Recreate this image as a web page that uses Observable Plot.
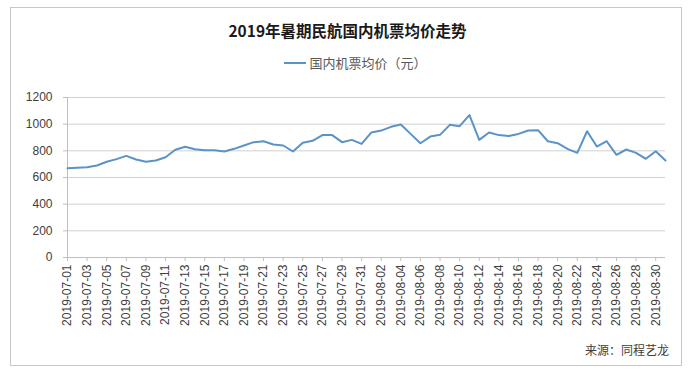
<!DOCTYPE html>
<html>
<head>
<meta charset="utf-8">
<script src="https://cdn.jsdelivr.net/npm/d3@7"></script>
<script src="https://cdn.jsdelivr.net/npm/@observablehq/plot@0.6"></script>
<style>
  html, body { margin: 0; padding: 0; background: #fff; }
  #wrap { position: relative; width: 695px; height: 377px; overflow: hidden; background: #fff; }
  #frame { position: absolute; left: 10px; top: 7px; width: 672px; height: 359px; border: 1px solid #c8c8c8; box-sizing: border-box; }
  #title { position: absolute; left: 0; width: 695px; top: 19px; text-align: center; font: bold 15.5px "Noto Sans CJK SC", sans-serif; color: #1a1a1a; }
  #legend { position: absolute; left: 8px; width: 695px; top: 53px; text-align: center; font: 13px "Noto Sans CJK SC", sans-serif; color: #595959; }
  #legend .sw { display: inline-block; width: 22px; height: 2px; background: #5b93c7; vertical-align: middle; margin-right: 3px; position: relative; top: -1px; }
  #chart { position: absolute; left: 0; top: 85px; }
  #source { position: absolute; right: 26px; top: 341px; font: 12px "Noto Sans CJK SC", sans-serif; color: #404040; }
</style>
</head>
<body>
<div id="wrap">
  <div id="frame"></div>
  <div id="title"></div>
  <div id="legend"><span class="sw"></span><span id="legtext"></span></div>
  <div id="chart"></div>
  <div id="source"></div>
</div>
<script>
const titleText = "2019年暑期民航国内机票均价走势";
const seriesName = "国内机票均价（元）";
const sourceText = "来源：同程艺龙";
const startDate = "2019-07-01";
const endDate = "2019-08-31";
const prices = [
  670, 673, 677, 690, 718, 738, 762, 735, 718, 728,
  752, 808, 830, 812, 805, 805, 795, 815, 840, 865,
  872, 847, 840, 795, 860, 875, 918, 918, 865, 882,
  852, 938, 952, 980, 997, 927, 857, 907, 920, 995,
  985, 1068, 882, 937, 918, 912, 927, 952, 955, 872,
  857, 815, 785, 947, 832, 872, 770, 810, 785, 740,
  797, 727
];
const yTicks = [0, 200, 400, 600, 800, 1000, 1200];

document.getElementById("title").textContent = titleText;
document.getElementById("legtext").textContent = seriesName;
document.getElementById("source").textContent = sourceText;

const parse = d3.utcParse("%Y-%m-%d");
const dates = d3.utcDay.range(parse(startDate), d3.utcDay.offset(parse(endDate), 1));
const data = dates.map((d, i) => ({date: d, price: prices[i]}));
const xTicks = dates.filter((d, i) => i % 2 === 0);

const chart = Plot.plot({
  width: 695,
  height: 255,
  marginLeft: 67,
  marginRight: 30,
  marginTop: 12,
  marginBottom: 83,
  style: {fontFamily: "'Liberation Sans', Arial, sans-serif", fontSize: "12px", color: "#404040", background: "transparent", overflow: "visible"},
  x: {type: "utc", domain: [dates[0], dates[dates.length - 1]], label: null},
  y: {domain: [0, 1200], label: null},
  marks: [
    Plot.ruleY(yTicks.filter(v => v > 0), {stroke: "#d0d0d0", strokeWidth: 1, x1: dates[0], x2: dates[dates.length - 1]}),
    Plot.ruleX([dates[0]], {stroke: "#bfbfbf", strokeWidth: 1}),
    Plot.ruleY([0], {stroke: "#bfbfbf", strokeWidth: 1, x1: dates[0], x2: dates[dates.length - 1]}),
    Plot.axisY({ticks: yTicks, tickFormat: d3.format("d"), tickSize: 4, tickPadding: 11, stroke: "#bfbfbf", strokeOpacity: 1, fontSize: 12, fill: "#404040"}),
    Plot.axisX({ticks: xTicks, tickFormat: d3.utcFormat("%Y-%m-%d"), tickRotate: -90, tickSize: 4, tickPadding: 3, stroke: "#bfbfbf", strokeOpacity: 1, fontSize: 12, fill: "#404040"}),
    Plot.lineY(data, {x: "date", y: "price", stroke: "#5b93c7", strokeWidth: 2, curve: "linear"})
  ]
});
document.getElementById("chart").appendChild(chart);
</script>
</body>
</html>
